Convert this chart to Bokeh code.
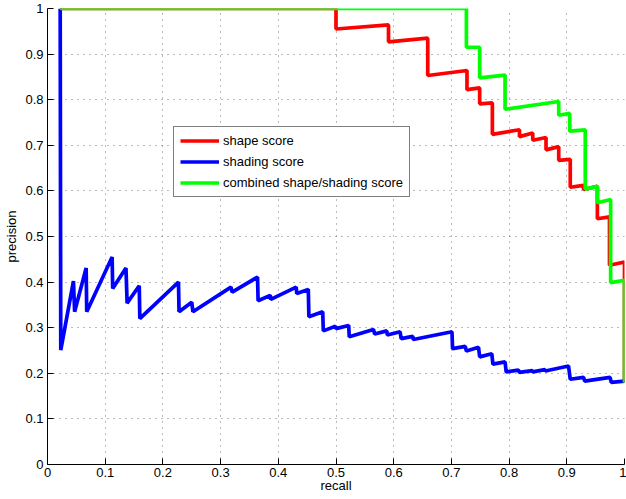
from bokeh.plotting import figure
from bokeh.models import FixedTicker, Legend, LegendItem, Range1d
from bokeh.embed import file_html
from bokeh.resources import INLINE

# ---- data ----
shape_recall = [0.022, 0.500, 0.500, 0.591, 0.591, 0.659, 0.659, 0.727, 0.727, 0.749,
                0.749, 0.771, 0.771, 0.818, 0.818, 0.841, 0.841, 0.864, 0.864, 0.886,
                0.886, 0.906, 0.906, 0.929, 0.929, 0.953, 0.953, 0.974, 0.974, 1.000, 1.000]
shape_precision = [1.000, 1.000, 0.955, 0.964, 0.927, 0.935, 0.853, 0.864, 0.822, 0.826,
                   0.791, 0.793, 0.724, 0.734, 0.719, 0.727, 0.711, 0.717, 0.690, 0.697,
                   0.667, 0.669, 0.608, 0.612, 0.603, 0.610, 0.539, 0.543, 0.437, 0.444, 0.180]

shading_recall = [0.022, 0.023, 0.045, 0.047, 0.067, 0.068, 0.112, 0.113, 0.136, 0.138,
                  0.159, 0.160, 0.227, 0.228, 0.250, 0.252, 0.318, 0.320, 0.364, 0.365,
                  0.386, 0.387, 0.431, 0.432, 0.452, 0.453, 0.477, 0.478, 0.499, 0.500,
                  0.522, 0.523, 0.565, 0.567, 0.588, 0.589, 0.611, 0.613, 0.633, 0.634,
                  0.701, 0.702, 0.724, 0.726, 0.747, 0.749, 0.770, 0.772, 0.793, 0.795,
                  0.816, 0.818, 0.840, 0.841, 0.862, 0.863, 0.903, 0.906, 0.929, 0.931,
                  0.975, 0.977, 1.000]
shading_precision = [1.000, 0.251, 0.402, 0.335, 0.431, 0.335, 0.455, 0.386, 0.431, 0.354,
                     0.392, 0.320, 0.400, 0.335, 0.356, 0.335, 0.389, 0.378, 0.411, 0.359,
                     0.371, 0.362, 0.389, 0.375, 0.384, 0.324, 0.335, 0.293, 0.303, 0.298,
                     0.305, 0.280, 0.296, 0.286, 0.293, 0.284, 0.291, 0.276, 0.281, 0.274,
                     0.291, 0.254, 0.259, 0.249, 0.257, 0.236, 0.243, 0.220, 0.225, 0.203,
                     0.207, 0.202, 0.206, 0.203, 0.208, 0.205, 0.216, 0.187, 0.191, 0.183,
                     0.191, 0.180, 0.183]

combined_recall = [0.022, 0.726, 0.726, 0.749, 0.749, 0.793, 0.793, 0.886, 0.886, 0.905,
                   0.905, 0.932, 0.932, 0.953, 0.953, 0.976, 0.976, 1.000, 1.000]
combined_precision = [1.000, 1.000, 0.915, 0.915, 0.848, 0.854, 0.779, 0.796, 0.766, 0.770,
                      0.731, 0.734, 0.604, 0.610, 0.574, 0.581, 0.399, 0.404, 0.180]

ticks = [0, 0.1, 0.2, 0.3, 0.4, 0.5, 0.6, 0.7, 0.8, 0.9, 1]
tick_labels = ["0", "0.1", "0.2", "0.3", "0.4", "0.5", "0.6", "0.7", "0.8", "0.9", "1"]
series_names = ["shape score", "shading score", "combined shape/shading score"]

FONT = "Liberation Sans"
FS = "13px"

p = figure(width=626, height=499, output_backend="svg", toolbar_location=None,
           x_range=Range1d(0, 1), y_range=Range1d(0, 1),
           min_border_left=47, min_border_right=2, min_border_top=8, min_border_bottom=35)
p.outline_line_color = None
p.background_fill_color = "white"
p.border_fill_color = "white"

lab = dict(zip(ticks, tick_labels))
for ax in (p.xaxis[0], p.yaxis[0]):
    ax.ticker = FixedTicker(ticks=ticks)
    ax.major_label_overrides = {t: s for t, s in lab.items()}
    ax.major_tick_in = 6
    ax.major_tick_out = 0
    ax.minor_tick_line_color = None
    ax.axis_line_color = "black"
    ax.major_tick_line_color = "black"
    ax.major_label_text_font = FONT
    ax.major_label_text_font_size = FS
    ax.major_label_text_color = "black"
    ax.axis_label_text_font = FONT
    ax.axis_label_text_font_size = FS
    ax.axis_label_text_font_style = "normal"
    ax.axis_label_text_color = "black"

p.xaxis.axis_label = "recall"
p.yaxis.axis_label = "precision"
p.xaxis.major_label_standoff = 3
p.xaxis.axis_label_standoff = -2
p.yaxis.major_label_standoff = 4
p.yaxis.axis_label_standoff = 3

for g in (p.xgrid[0], p.ygrid[0]):
    g.grid_line_color = "#555555"
    g.grid_line_dash = "1 5"
    g.grid_line_width = 1
    g.grid_line_alpha = 0.8

r1 = p.line(shape_recall, shape_precision, line_color="#ff0000", line_width=3.7)
r2 = p.line(shading_recall, shading_precision, line_color="#0000ff", line_width=3.7)
r3 = p.line(combined_recall, combined_precision, line_color="#00ff00", line_width=3.7)

legend = Legend(items=[LegendItem(label=series_names[0], renderers=[r1]),
                       LegendItem(label=series_names[1], renderers=[r2]),
                       LegendItem(label=series_names[2], renderers=[r3])],
                location=(126, 267))
legend.border_line_color = "black"
legend.border_line_width = 1
legend.background_fill_color = "white"
legend.background_fill_alpha = 1
legend.label_text_font = FONT
legend.label_text_font_size = FS
legend.label_text_color = "black"
legend.glyph_width = 39
legend.glyph_height = 15
legend.label_height = 15
legend.spacing = 6
legend.padding = 6
legend.margin = 0
legend.label_standoff = 4
p.add_layout(legend, "center")

open("out.html", "w").write(file_html(p, INLINE))
